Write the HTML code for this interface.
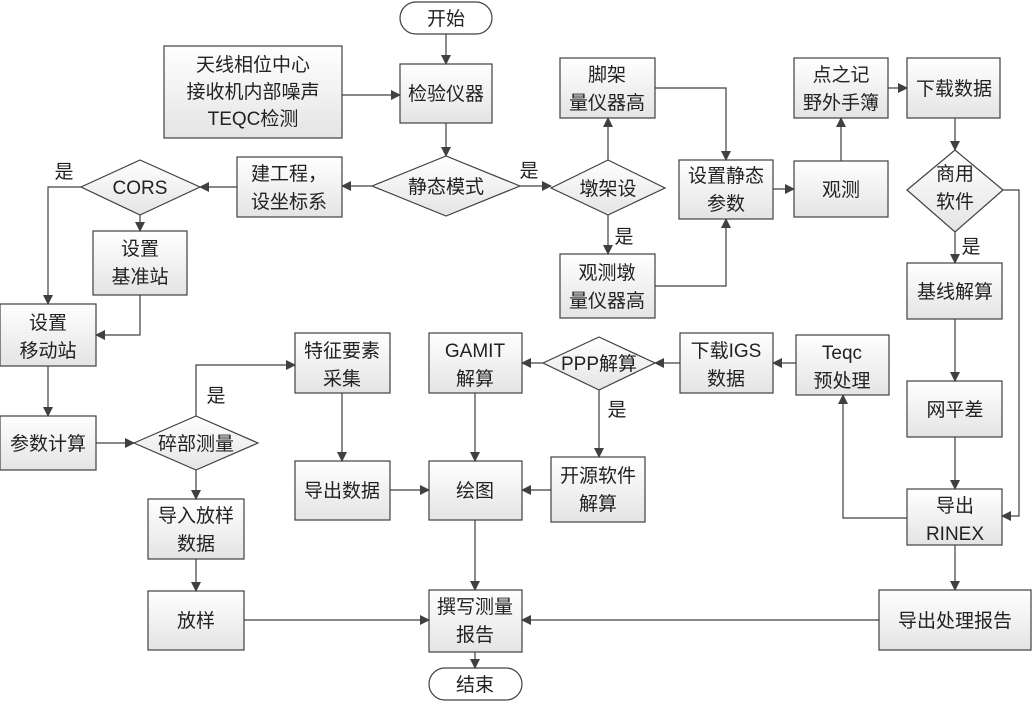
<!DOCTYPE html>
<html><head><meta charset="utf-8"><style>
body{margin:0;background:#fff}
svg text{font-family:"Liberation Sans","Noto Sans CJK SC",sans-serif;font-size:19px;fill:#222;text-anchor:middle}
</style></head><body>
<svg width="1035" height="706" viewBox="0 0 1035 706" xmlns="http://www.w3.org/2000/svg">
<defs>
<linearGradient id="g" x1="0" y1="0" x2="0" y2="1"><stop offset="0" stop-color="#ffffff"/><stop offset="1" stop-color="#e4e4e4"/></linearGradient>
<marker id="a" markerWidth="10" markerHeight="10" refX="9" refY="5" orient="auto" markerUnits="userSpaceOnUse"><path d="M0,0 L10,5 L0,10 z" fill="#404040"/></marker>
</defs>
<g fill="url(#g)" stroke="#404040" stroke-width="1.2">
<rect x="400" y="2" width="92" height="32" rx="16" fill="#fff"/>
<rect x="164" y="46" width="178" height="92"/>
<rect x="400" y="64" width="92" height="59"/>
<polygon points="372,186 446,156 520,186 446,216"/>
<rect x="237" y="157" width="105" height="60"/>
<polygon points="81,187 140,160 200,187 140,215"/>
<rect x="93" y="231" width="94" height="64"/>
<rect x="0" y="304" width="96" height="62"/>
<rect x="0" y="416" width="96" height="54"/>
<polygon points="134,443 196,416 258,443 196,470"/>
<rect x="148" y="499" width="96" height="60"/>
<rect x="148" y="591" width="96" height="59"/>
<rect x="295" y="333" width="95" height="60"/>
<rect x="295" y="461" width="95" height="59"/>
<rect x="429" y="461" width="93" height="59"/>
<rect x="429" y="333" width="93" height="60"/>
<polygon points="543,363 599,337 655,363 599,390"/>
<rect x="551" y="457" width="94" height="65"/>
<rect x="680" y="333" width="93" height="60"/>
<rect x="796" y="335" width="93" height="60"/>
<rect x="429" y="590" width="93" height="62"/>
<rect x="429" y="668" width="93" height="32" rx="16" fill="#fff"/>
<polygon points="551,188 608,160 665,188 608,215"/>
<rect x="560" y="58" width="95" height="60"/>
<rect x="560" y="254" width="95" height="64"/>
<rect x="679" y="160" width="94" height="59"/>
<rect x="794" y="161" width="94" height="56"/>
<rect x="794" y="58" width="94" height="60"/>
<rect x="907" y="58" width="93" height="60"/>
<polygon points="907,190 955,150 1003,190 955,232"/>
<rect x="907" y="263" width="95" height="56"/>
<rect x="907" y="381" width="95" height="56"/>
<rect x="907" y="489" width="95" height="56"/>
<rect x="879" y="590" width="152" height="60"/>
</g>
<g fill="none" stroke="#404040" stroke-width="1.2" marker-end="url(#a)">
<path d="M446,34V64"/><path d="M342,95H400"/><path d="M446,123V156"/>
<path d="M372,186H342"/><path d="M520,186H551"/><path d="M237,187H200"/>
<path d="M140,215V231"/><path d="M81,187H48V304"/><path d="M140,295V335H96"/>
<path d="M48,366V416"/><path d="M96,443H134"/><path d="M196,416V365H295"/>
<path d="M196,470V499"/><path d="M196,559V591"/><path d="M244,620H429"/>
<path d="M342,393V461"/><path d="M390,490H429"/><path d="M475,393V461"/>
<path d="M543,363H522"/><path d="M599,390V457"/><path d="M551,490H522"/>
<path d="M680,363H655"/><path d="M796,363H773"/><path d="M475,520V590"/>
<path d="M475,652V668"/><path d="M608,160V118"/><path d="M608,215V254"/>
<path d="M655,88H726V160"/><path d="M655,286H726V219"/><path d="M773,189H794"/>
<path d="M841,161V118"/><path d="M888,88H907"/><path d="M955,118V150"/>
<path d="M955,232V263"/><path d="M1003,190H1019V516H1002"/><path d="M955,319V381"/>
<path d="M955,437V489"/><path d="M907,518H843V395"/><path d="M955,545V590"/>
<path d="M879,620H522"/>
</g>
<text x="446" y="25">开始</text>
<text x="253" y="71">天线相位中心</text><text x="253" y="98">接收机内部噪声</text><text x="253" y="125">TEQC检测</text>
<text x="446" y="100">检验仪器</text>
<text x="446" y="193">静态模式</text>
<text x="289" y="180">建工程，</text><text x="289" y="208">设坐标系</text>
<text x="140" y="194">CORS</text>
<text x="140" y="255">设置</text><text x="140" y="283">基准站</text>
<text x="48" y="329">设置</text><text x="48" y="357">移动站</text>
<text x="48" y="450">参数计算</text>
<text x="196" y="450">碎部测量</text>
<text x="196" y="522">导入放样</text><text x="196" y="550">数据</text>
<text x="196" y="627">放样</text>
<text x="342" y="357">特征要素</text><text x="342" y="385">采集</text>
<text x="342" y="497">导出数据</text>
<text x="475" y="497">绘图</text>
<text x="475" y="357">GAMIT</text><text x="475" y="385">解算</text>
<text x="599" y="370">PPP解算</text>
<text x="598" y="482">开源软件</text><text x="598" y="510">解算</text>
<text x="726" y="357">下载IGS</text><text x="726" y="385">数据</text>
<text x="842" y="359">Teqc</text><text x="842" y="387">预处理</text>
<text x="475" y="613">撰写测量</text><text x="475" y="641">报告</text>
<text x="475" y="691">结束</text>
<text x="608" y="195">墩架设</text>
<text x="607" y="81">脚架</text><text x="607" y="109">量仪器高</text>
<text x="607" y="279">观测墩</text><text x="607" y="307">量仪器高</text>
<text x="726" y="182">设置静态</text><text x="726" y="210">参数</text>
<text x="841" y="196">观测</text>
<text x="841" y="81">点之记</text><text x="841" y="109">野外手簿</text>
<text x="954" y="95">下载数据</text>
<text x="955" y="180">商用</text><text x="955" y="208">软件</text>
<text x="955" y="298">基线解算</text>
<text x="955" y="416">网平差</text>
<text x="955" y="512">导出</text><text x="955" y="540">RINEX</text>
<text x="955" y="627">导出处理报告</text>
<text x="529" y="177">是</text><text x="64" y="178">是</text><text x="216" y="402">是</text>
<text x="617" y="416">是</text><text x="624" y="243">是</text><text x="971" y="253">是</text>
</svg>
</body></html>
